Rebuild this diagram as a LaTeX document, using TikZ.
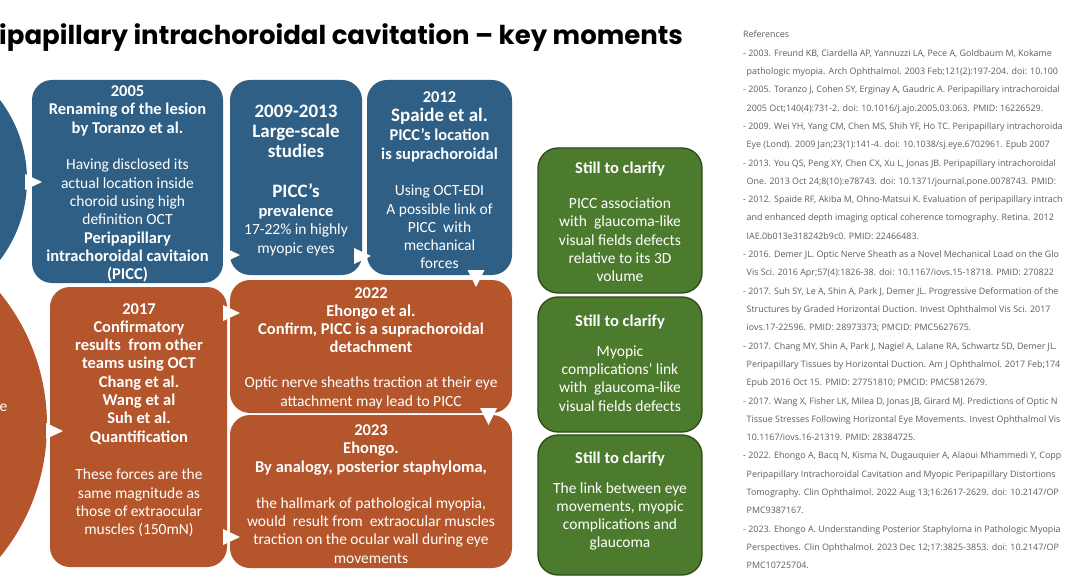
\documentclass[tikz,border=0pt]{standalone}
\usepackage{fontspec}
\setmainfont{Carlito}
\newfontfamily\ttlfont{Poppins}
\newfontfamily\reffont{Open Sans}
\definecolor{cblue}{HTML}{2F5F84}
\definecolor{corange}{HTML}{B4552B}
\definecolor{cgreen}{HTML}{4C7B2E}
\definecolor{cgreenline}{HTML}{2C4A1A}
\definecolor{reftext}{HTML}{5E5E5E}
\newcommand\myB{\fontsize{16.5}{18.3}\selectfont\bfseries}
\newcommand\myR{\fontsize{15.5}{18.3}\selectfont\mdseries}
\newcommand\myL{\fontsize{19}{18.3}\selectfont\bfseries}
\newcommand\rtri[2]{\fill[white] (#1,#2) -- ++(-17,-8) -- ++(0,16) -- cycle;}
\newcommand\dtri[2]{\fill[white] (#1,#2) -- ++(-8.5,-17) -- ++(17,0) -- cycle;}
\begin{document}
\begin{tikzpicture}[x=1pt,y=-1pt,
  box/.style={rounded corners=20pt, inner sep=0pt, outer sep=0pt},
  bluebox/.style={box, fill=cblue},
  orangebox/.style={box, fill=corange},
  greenbox/.style={box, fill=cgreen, draw=cgreenline, line width=1.3pt},
  boxtext/.style={text=white, align=center, inner sep=0pt, font=\myR},
  reftxt/.style={font=\reffont\fontsize{8.9}{11}\selectfont, text=reftext, anchor=base west, inner sep=0pt}
]
\useasboundingbox (0,0) rectangle (1068,580);
\clip (0,0) rectangle (1068,580);
\fill[white] (0,0) rectangle (1068,580);

% title
\node[font=\ttlfont\bfseries\fontsize{26}{30}\selectfont, anchor=base west, inner sep=0pt] (title) at (-1,45) {ipapillary intrachoroidal cavitation – key moments};

% circles (cut by the left edge)
\node[circle, fill=cblue, minimum size=264pt, inner sep=0pt] (cB) at (-105,180) {};
\node[circle, fill=corange, minimum size=418pt, inner sep=0pt] (cO) at (-162,425) {};
\node[boxtext, anchor=west] (frag) at (-0.5,408) {e};

% blue boxes
\node[bluebox, minimum width=191pt, minimum height=203pt] (b2005) at (127.5,181.5) {};
\node[bluebox, minimum width=132pt, minimum height=195pt] (b0913) at (296,177.5) {};
\node[bluebox, minimum width=145pt, minimum height=195pt] (b2012) at (439.5,177.5) {};
% orange boxes
\node[orangebox, minimum width=177pt, minimum height=280pt] (b2017) at (138.5,427) {};
\node[orangebox, minimum width=282pt, minimum height=133pt] (b2022) at (371,346.5) {};
\node[orangebox, minimum width=282pt, minimum height=153pt] (b2023) at (371,491.5) {};
% green boxes
\node[greenbox, minimum width=164pt, minimum height=145pt] (g1) at (620,220.5) {};
\node[greenbox, minimum width=164pt, minimum height=135pt] (g2) at (620,364.5) {};
\node[greenbox, minimum width=164pt, minimum height=140pt] (g3) at (620,505) {};

% texts
\node[boxtext] (t2005) at (127.5,184) {\myB 2005\\ \myB Renaming of the lesion\\ \myB by Toranzo et al.\\[18.3pt]
 Having disclosed its\\ actual location inside\\ choroid using high\\ definition OCT\\
 \myB Peripapillary\\ \myB intrachoroidal cavitaion\\ \myB (PICC)};
\node[boxtext] (t0913) at (296,180.5) {\myL 2009-2013\\[1.7pt] \myL Large-scale\\[1.7pt] \myL studies\\[21.7pt]
 \myL PICC’s\\[0.7pt] \myB prevalence\\ 17-22\% in highly\\ myopic eyes};
\node[boxtext] (t2012) at (439.5,180.5) {\myB 2012\\[0.7pt] \myL Spaide et al.\\[0.7pt] \myB PICC’s location\\ \myB is suprachoroidal\\[18.3pt]
 Using OCT-EDI\\ A possible link of\\ PICC\ \ with\\ mechanical\\ forces};
\node[boxtext] (tg1) at (620,222) {\myB Still to clarify\\[16.7pt] PICC association\\ with\ \ glaucoma-like\\ visual fields defects\\ relative to its 3D\\ volume};
\node[boxtext] (tg2) at (620,363) {\myB Still to clarify\\[11.7pt] Myopic\\ complications’ link\\ with\ \ glaucoma-like\\ visual fields defects};
\node[boxtext] (tg3) at (620,501) {\myB Still to clarify\\[11.7pt] The link between eye\\ movements, myopic\\ complications and\\ glaucoma};
\node[boxtext] (t2017) at (139,420) {\myB 2017\\ \myB Confirmatory\\ \myB results\ \ from other\\ \myB teams using OCT\\ \myB Chang et al.\\ \myB Wang et al\\ \myB Suh et al.\\ \myB Quantification\\[19.3pt]
 These forces are the\\ same magnitude as\\ those of extraocular\\ muscles (150mN)};
\node[boxtext] (t2022) at (371,348) {\myB 2022\\ \myB Ehongo et al.\\ \myB Confirm, PICC is a suprachoroidal\\ \myB detachment\\[16.7pt]
 Optic nerve sheaths traction at their eye\\ attachment may lead to PICC};
\node[boxtext] (t2023) at (371,494) {\myB 2023\\ \myB Ehongo.\\ \myB By analogy, posterior staphyloma,\\[17.7pt]
 the hallmark of pathological myopia,\\ would\ \ result from\ \ extraocular muscles\\ traction on the ocular wall during eye\\ movements};

% arrow heads (white triangles)
\rtri{42}{182}
\rtri{240}{255}
\rtri{371}{256}
\dtri{476}{287}
\rtri{63}{431}
\rtri{240}{313}
\dtri{488.5}{425}
\rtri{240}{537}

% references
\node[reftxt] (r0) at (743,38) {References};
\node[reftxt] (r1) at (743,56.3) {- 2003. Freund KB, Ciardella AP, Yannuzzi LA, Pece A, Goldbaum M, Kokame};
\node[reftxt] (r2) at (746.5,74.6) {pathologic myopia. Arch Ophthalmol. 2003 Feb;121(2):197-204. doi: 10.100};
\node[reftxt] (r3) at (743,92.9) {- 2005. Toranzo J, Cohen SY, Erginay A, Gaudric A. Peripapillary intrachoroidal};
\node[reftxt] (r4) at (746.5,111.2) {2005 Oct;140(4):731-2. doi: 10.1016/j.ajo.2005.03.063. PMID: 16226529.};
\node[reftxt] (r5) at (743,129.5) {- 2009. Wei YH, Yang CM, Chen MS, Shih YF, Ho TC. Peripapillary intrachoroida};
\node[reftxt] (r6) at (746.5,147.8) {Eye (Lond). 2009 Jan;23(1):141-4. doi: 10.1038/sj.eye.6702961. Epub 2007};
\node[reftxt] (r7) at (743,166.1) {- 2013. You QS, Peng XY, Chen CX, Xu L, Jonas JB. Peripapillary intrachoroidal};
\node[reftxt] (r8) at (746.5,184.4) {One. 2013 Oct 24;8(10):e78743. doi: 10.1371/journal.pone.0078743. PMID:};
\node[reftxt] (r9) at (743,202.7) {- 2012. Spaide RF, Akiba M, Ohno-Matsui K. Evaluation of peripapillary intrach};
\node[reftxt] (r10) at (746.5,221) {and enhanced depth imaging optical coherence tomography. Retina. 2012};
\node[reftxt] (r11) at (746.5,239.3) {IAE.0b013e318242b9c0. PMID: 22466483.};
\node[reftxt] (r12) at (743,257.6) {- 2016. Demer JL. Optic Nerve Sheath as a Novel Mechanical Load on the Glo};
\node[reftxt] (r13) at (746.5,275.9) {Vis Sci. 2016 Apr;57(4):1826-38. doi: 10.1167/iovs.15-18718. PMID: 270822};
\node[reftxt] (r14) at (743,294.2) {- 2017. Suh SY, Le A, Shin A, Park J, Demer JL. Progressive Deformation of the};
\node[reftxt] (r15) at (746.5,312.5) {Structures by Graded Horizontal Duction. Invest Ophthalmol Vis Sci. 2017};
\node[reftxt] (r16) at (746.5,330.8) {iovs.17-22596. PMID: 28973373; PMCID: PMC5627675.};
\node[reftxt] (r17) at (743,349.1) {- 2017. Chang MY, Shin A, Park J, Nagiel A, Lalane RA, Schwartz SD, Demer JL.};
\node[reftxt] (r18) at (746.5,367.4) {Peripapillary Tissues by Horizontal Duction. Am J Ophthalmol. 2017 Feb;174};
\node[reftxt] (r19) at (746.5,385.7) {Epub 2016 Oct 15. PMID: 27751810; PMCID: PMC5812679.};
\node[reftxt] (r20) at (743,404) {- 2017. Wang X, Fisher LK, Milea D, Jonas JB, Girard MJ. Predictions of Optic N};
\node[reftxt] (r21) at (746.5,422.3) {Tissue Stresses Following Horizontal Eye Movements. Invest Ophthalmol Vis};
\node[reftxt] (r22) at (746.5,440.6) {10.1167/iovs.16-21319. PMID: 28384725.};
\node[reftxt] (r23) at (743,458.9) {- 2022. Ehongo A, Bacq N, Kisma N, Dugauquier A, Alaoui Mhammedi Y, Copp};
\node[reftxt] (r24) at (746.5,477.2) {Peripapillary Intrachoroidal Cavitation and Myopic Peripapillary Distortions};
\node[reftxt] (r25) at (746.5,495.5) {Tomography. Clin Ophthalmol. 2022 Aug 13;16:2617-2629. doi: 10.2147/OP};
\node[reftxt] (r26) at (746.5,513.8) {PMC9387167.};
\node[reftxt] (r27) at (743,532.1) {- 2023. Ehongo A. Understanding Posterior Staphyloma in Pathologic Myopia};
\node[reftxt] (r28) at (746.5,550.4) {Perspectives. Clin Ophthalmol. 2023 Dec 12;17:3825-3853. doi: 10.2147/OP};
\node[reftxt] (r29) at (746.5,568.7) {PMC10725704.};
\end{tikzpicture}
\end{document}
